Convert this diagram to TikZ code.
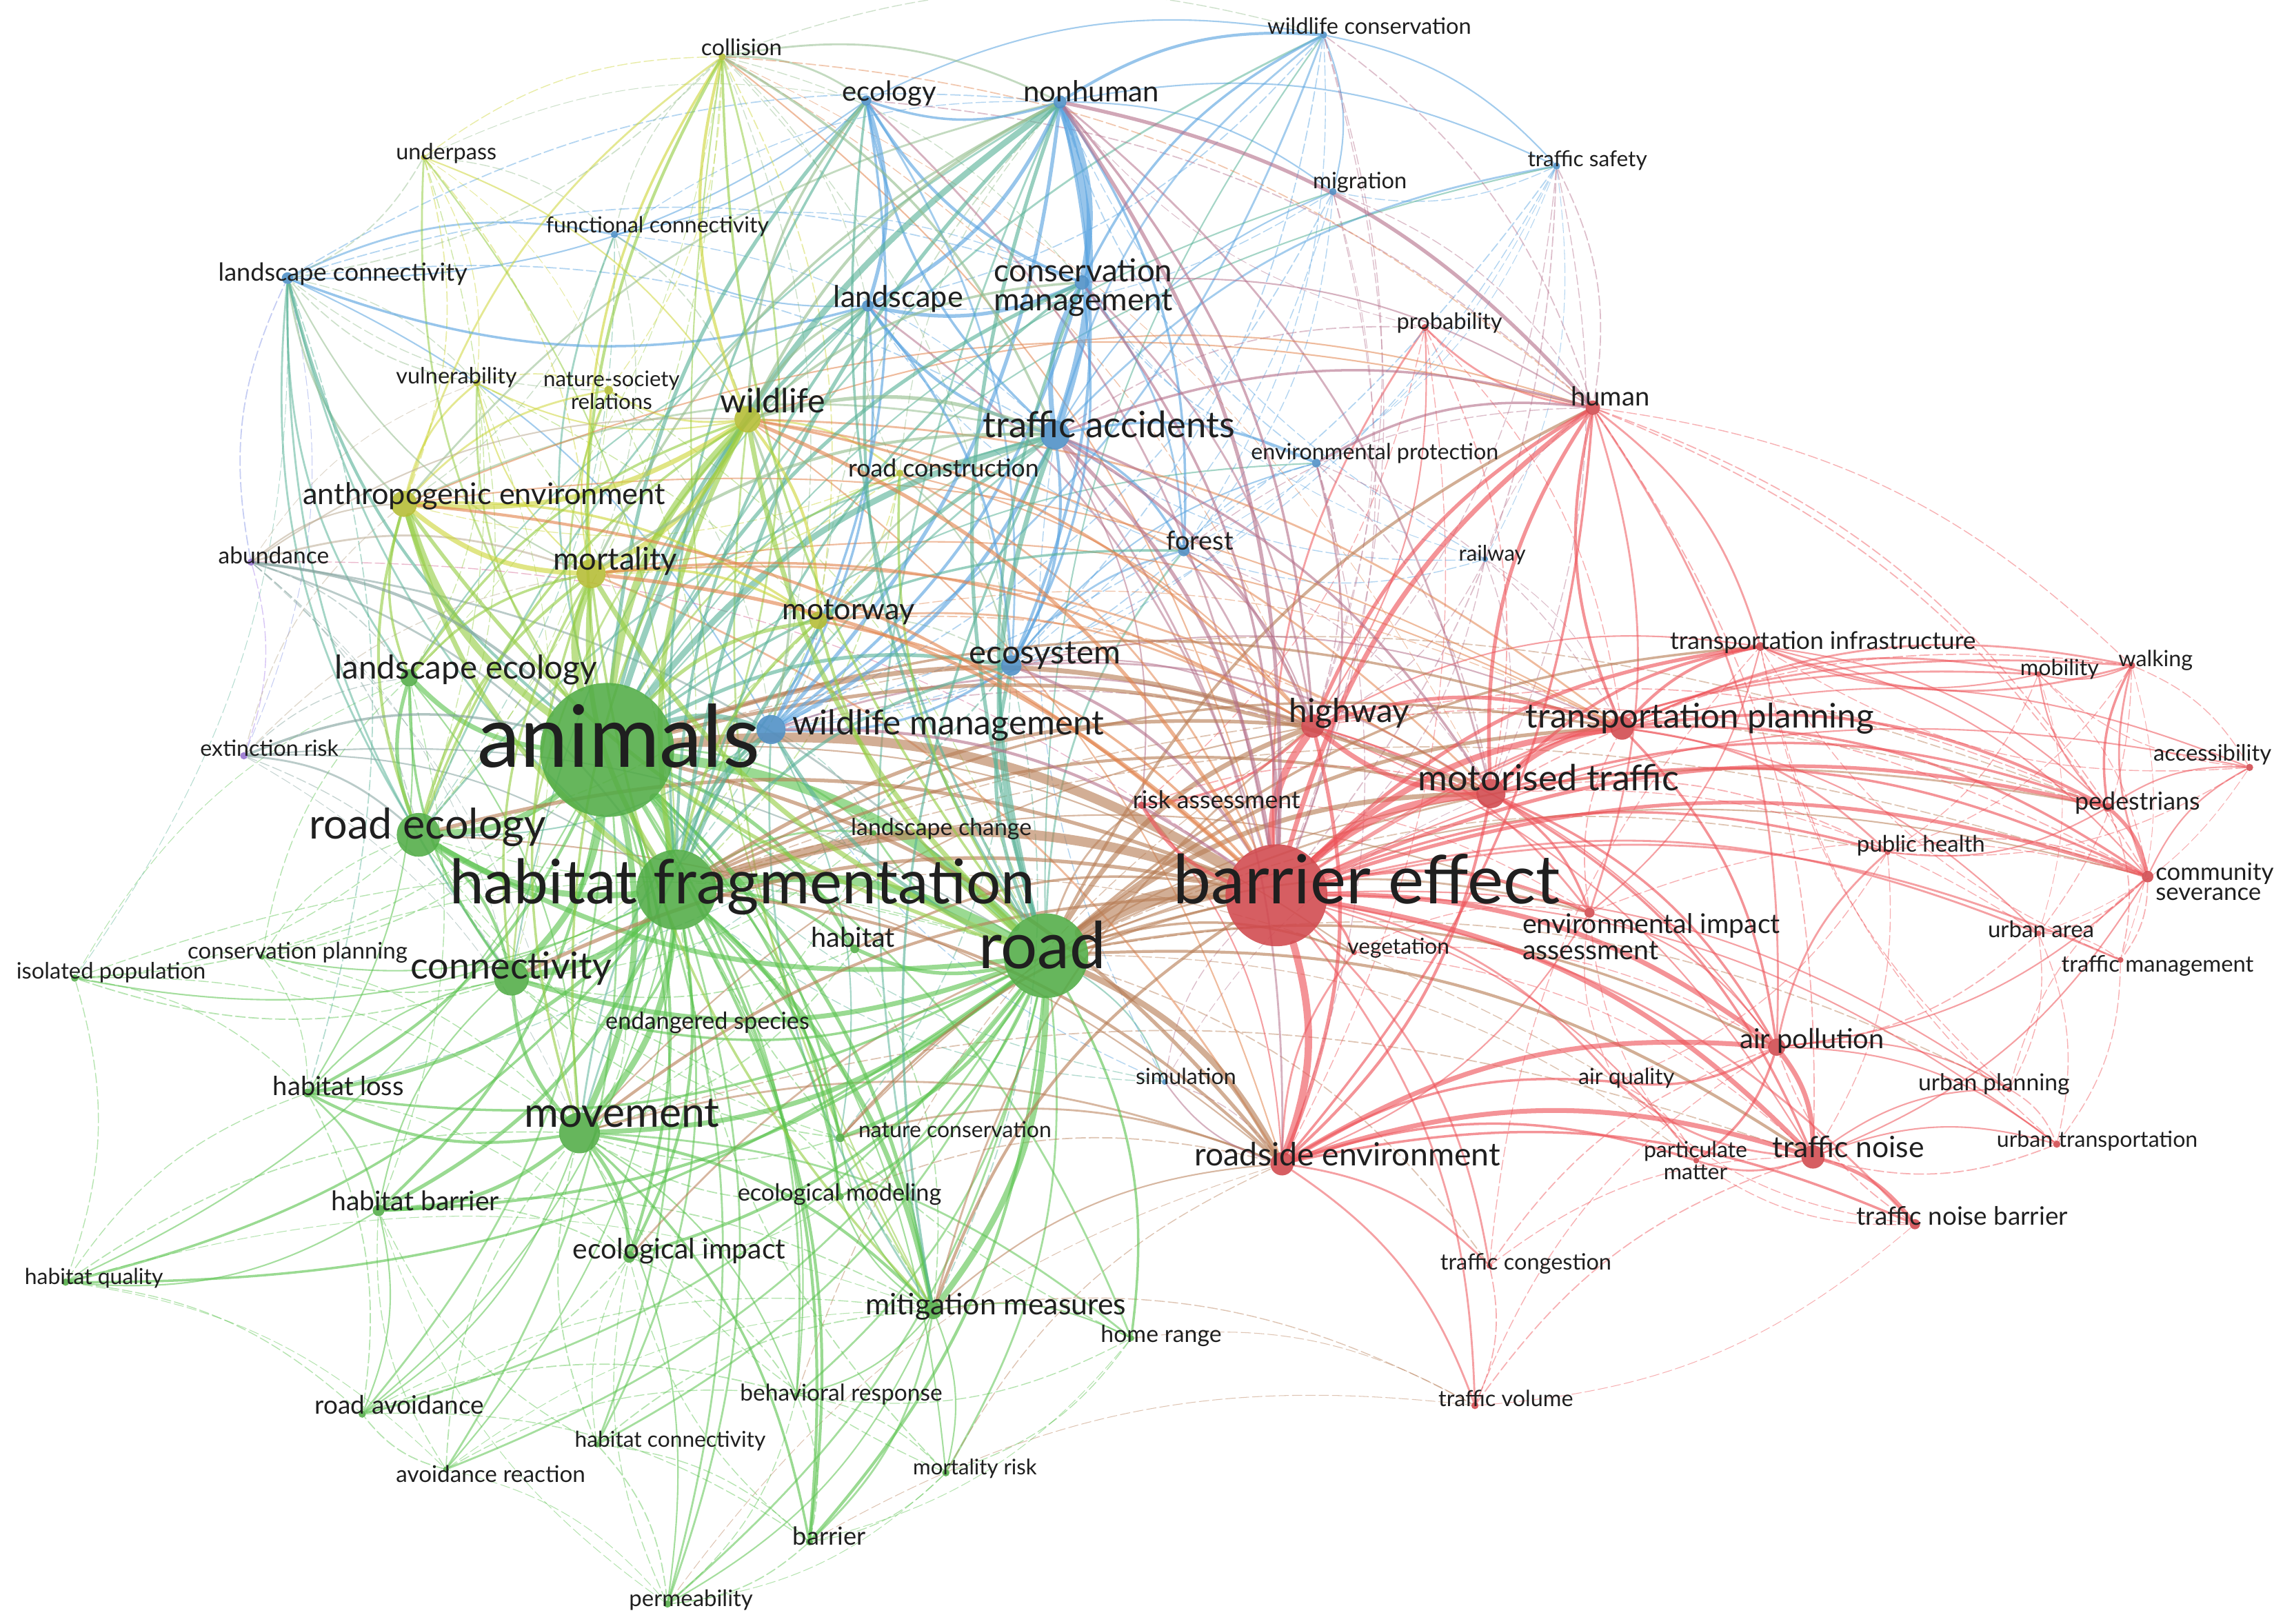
\documentclass[tikz,border=0pt]{standalone}
\usepackage{fontspec}
\setmainfont{Lato}
\usepackage{graphicx}
\pgfdeclarelayer{edgelayer}
\pgfdeclarelayer{textlayer}
\pgfsetlayers{edgelayer,main,textlayer}
\definecolor{cG}{RGB}{92,196,80}
\definecolor{cR}{RGB}{238,82,88}
\definecolor{cB}{RGB}{88,163,224}
\definecolor{cY}{RGB}{206,214,58}
\definecolor{cP}{RGB}{168,128,235}
\newdimen\U \U=0.021116cm
\tikzset{
 dot/.style={circle, inner sep=0pt, draw=none, fill opacity=0.88},
 lbl/.style={inner sep=0pt, text=black!88, font=\fontsize{10}{12}\selectfont},
 edgeln/.style={draw opacity=0.55, line cap=round},
}
\newcommand\D[5]{\expandafter\gdef\csname nc#1\endcsname{#5}%
 \node[dot, fill=#5!88!black, minimum size={2*#4*0.021116cm}] (#1) at (#2,#3) {};}
\newcommand\Lb[5]{\begin{pgfonlayer}{textlayer}\node[lbl, anchor=base] (#1-t) at (#2,#3) {\resizebox{#4\U}{!}{\raisebox{-0.5ex}{#5}}};\end{pgfonlayer}}
\newcommand\N[9]{\D{#1}{#2}{#3}{#4}{#5}\Lb{#1}{#6}{#7}{#8}{#9}}
\newcommand\LL[7]{\begin{pgfonlayer}{textlayer}\node[lbl, anchor=#2] (#1-t) at (#3,#4) {\resizebox{#5\U}{!}{\def\arraystretch{#6}#7}};\end{pgfonlayer}}
\newif\ifthickpass
\def\cRname{cR}
\newcommand\E[3]{%
 \edef\ca{\csname nc#1\endcsname}\edef\cb{\csname nc#2\endcsname}%
 \ifx\ca\cb \edef\ecol{\ca}%
 \else\ifx\ca\cRname \edef\ecol{cR!62!\cb}%
 \else\ifx\cb\cRname \edef\ecol{cR!62!\ca}%
 \else \edef\ecol{\ca!50!\cb}\fi\fi\fi
 \ifthickpass
   \ifdim#3pt<1pt\else \draw[edgeln, draw=\ecol, line width=#3pt, draw opacity=0.62] (#1) to[bend left=18] (#2);\fi
 \else
   \ifdim#3pt<1pt
     \ifdim#3pt<0.55pt \draw[edgeln, draw=\ecol, line width=#3pt, draw opacity=0.45, dash pattern=on 4pt off 1.5pt] (#1) to[bend left=18] (#2);%
     \else \draw[edgeln, draw=\ecol, line width=#3pt] (#1) to[bend left=18] (#2);\fi
   \fi
 \fi}
\def\edgelist{%
animals/habfrag/4, animals/road/4, habfrag/road/3.5, road/beff/6, animals/beff/4, habfrag/beff/4,
animals/reco/2.5, animals/conn/2.5, animals/movement/2.5, animals/leco/2, habfrag/reco/2.5, habfrag/conn/2.5, habfrag/movement/2.5, road/movement/2, road/reco/2, road/conn/2, road/mitig/2.5, habfrag/mitig/2, animals/mitig/1.5, movement/conn/1.5, movement/habbar/1.5, movement/habloss/1.2, movement/ecoimp/1.5, movement/mitig/1.2, reco/leco/1.5, reco/conn/1.2, conn/leco/1, animals/habitat/1.5, road/habitat/1.5, habfrag/habitat/1.2, animals/endang/1, habfrag/endang/1, road/endang/1, animals/natcons/1, road/natcons/1.5, habfrag/natcons/1.2, animals/ecomod/1, road/ecomod/1, habfrag/ecomod/1, animals/ecoimp/1.2, road/ecoimp/1.2, habfrag/ecoimp/1.2, animals/habloss/1.2, habfrag/habloss/1.5, road/habloss/1, animals/habbar/1.2, habfrag/habbar/1.5, road/habbar/1.2, animals/ravoid/0.8, road/ravoid/0.8, habfrag/ravoid/0.6, habbar/ravoid/0.6, movement/ravoid/0.6, animals/avoid/0.8, road/avoid/0.8, habfrag/avoid/0.6, animals/barr/1.2, road/barr/1.2, habfrag/barr/1.2, movement/barr/1, animals/perm/0.8, road/perm/0.8, habfrag/perm/0.8, movement/perm/0.6, animals/habconn/0.8, road/habconn/0.8, habfrag/habconn/0.8, animals/behav/0.8, road/behav/0.8, habfrag/behav/0.6, movement/behav/0.6, animals/mrisk/0.6, road/mrisk/0.8, mitig/mrisk/0.6, road/home/1, movement/home/0.8, animals/home/0.8, mitig/home/0.6, animals/habqual/0.6, habfrag/habqual/1, road/habqual/1, habbar/habqual/0.6, animals/isol/0.5, habfrag/isol/0.6, conn/isol/0.5, reco/isol/0.4, animals/cplan/0.5, habfrag/cplan/0.6, conn/cplan/0.5, animals/lchange/0.8, habfrag/lchange/0.8, road/lchange/0.8, mitig/ecomod/0.6, mitig/natcons/0.6, mitig/behav/0.6, mitig/barr/0.8, mitig/perm/0.6, ecoimp/ravoid/0.5, habloss/habbar/0.8, habloss/ravoid/0.5, ecoimp/behav/0.5, habconn/perm/0.5, barr/perm/0.5, avoid/ravoid/0.5, leco/habloss/0.6,
isol/habqual/0.4, isol/habloss/0.4, isol/movement/0.4, isol/road/0.4, isol/leco/0.3, cplan/reco/0.4, cplan/road/0.4, cplan/movement/0.4, cplan/habloss/0.4, cplan/leco/0.4, habqual/habloss/0.4, habqual/movement/0.5, habqual/ravoid/0.4, habqual/mitig/0.3, habqual/avoid/0.3, ravoid/behav/0.5, ravoid/mitig/0.4, ravoid/barr/0.4, avoid/behav/0.4, avoid/movement/0.5, avoid/habbar/0.4, avoid/perm/0.3, avoid/mitig/0.3, habconn/movement/0.5, habconn/mitig/0.5, habconn/ecoimp/0.4, habconn/barr/0.4, habconn/habbar/0.4, behav/barr/0.5, behav/perm/0.4, behav/mrisk/0.4, mrisk/barr/0.4, mrisk/movement/0.4, mrisk/habfrag/0.5, mrisk/perm/0.3, perm/ecoimp/0.4, perm/habbar/0.3, barr/ecoimp/0.4, ecomod/movement/0.5, ecomod/ecoimp/0.4, ecomod/natcons/0.4, natcons/movement/0.5, natcons/conn/0.5, natcons/reco/0.4, endang/movement/0.5, endang/conn/0.5, endang/mitig/0.5, endang/reco/0.4, habitat/movement/0.5, habitat/conn/0.5, habitat/mitig/0.5, lchange/movement/0.4, lchange/conn/0.4, lchange/reco/0.4, home/behav/0.4, home/mrisk/0.4, home/barr/0.3, home/habfrag/0.5, habloss/ecoimp/0.4, habloss/conn/0.6, habbar/conn/0.6, habbar/ecoimp/0.5, habbar/mitig/0.5, leco/movement/0.6, leco/habbar/0.4,
road/highway/2, road/motor/2, road/roadside/2.5, road/tplan/1.5, road/human/1.2, road/tnoise/1.2, road/airpol/1, road/tinfra/1, animals/highway/2, animals/motor/1.5, animals/roadside/1.5, habfrag/highway/1.5, habfrag/motor/1.2, habfrag/roadside/1.2, movement/beff/1.2, mitig/beff/1.2, reco/beff/1.5, conn/beff/1.5, natcons/beff/1, habitat/beff/1, ecoimp/beff/0.8, habfrag/tplan/1, animals/tplan/1, movement/highway/0.6, mitig/highway/0.8, mitig/roadside/0.6, road/risk/0.8, road/veg/1, animals/veg/0.6, road/eia/0.8, habfrag/eia/0.6, road/sim/0.6, road/tcong/0.5, mitig/tvol/0.4, home/tvol/0.3, barr/tvol/0.3, perm/roadside/0.3, road/uplan/0.5, road/ped/0.8, habfrag/ped/0.5, animals/ped/0.5, reco/roadside/0.6, natcons/roadside/0.8, natcons/motor/0.6, movement/roadside/0.8, ecomod/roadside/0.5, habfrag/airq/0.4, road/pm/0.4, road/phealth/0.5, road/csev/0.6, habfrag/csev/0.5, movement/tnoise/0.5, mrisk/roadside/0.4, behav/highway/0.4,
beff/motor/3, beff/highway/3, beff/tplan/2.5, beff/roadside/3, beff/human/2, beff/tnoise/2, beff/airpol/2, beff/ped/1.5, beff/csev/1.5, beff/tinfra/1.5, beff/eia/1.2, beff/risk/1.5, beff/veg/1, beff/phealth/1, beff/uarea/0.8, beff/tmgmt/0.8, beff/walk/0.8, beff/mob/0.8, beff/access/0.6, beff/prob/0.8, beff/tcong/0.8, beff/tvol/0.8, beff/airq/0.8, beff/pm/0.6, beff/uplan/0.6, beff/utrans/0.6, beff/tnb/0.8, motor/tplan/2, motor/highway/2, motor/human/1.5, motor/roadside/1.2, motor/tinfra/1.2, motor/ped/1, motor/csev/1, motor/airpol/1, motor/tnoise/1, motor/eia/1, highway/tplan/1.5, highway/human/1.5, highway/roadside/1.5, highway/risk/1, highway/eia/0.8, tplan/human/1.2, tplan/tinfra/1.2, tplan/ped/1.2, tplan/csev/1, tplan/mob/0.8, tplan/walk/0.8, tplan/phealth/0.8, tplan/airpol/1, tplan/access/0.6, tplan/uarea/0.6, human/prob/0.8, human/roadside/1, human/tinfra/0.8, human/airpol/0.8, human/eia/0.8, roadside/tnoise/2, roadside/airpol/2, roadside/airq/1, roadside/pm/1, roadside/tcong/0.8, roadside/tvol/0.8, roadside/tnb/1, roadside/veg/0.8, roadside/sim/0.6, airpol/tnoise/2, airpol/airq/1, airpol/pm/1, airpol/phealth/0.8, airpol/utrans/0.6, airpol/uplan/0.6, tnoise/tnb/1.5, tnoise/airq/0.8, tnoise/pm/0.8, tnoise/uplan/0.6, tnoise/utrans/0.6, ped/csev/1.5, ped/walk/1, ped/access/0.6, ped/mob/0.6, ped/phealth/0.6, ped/tmgmt/0.5, csev/walk/0.8, csev/access/0.6, csev/tmgmt/0.5, csev/uarea/0.5, csev/airpol/0.6, csev/tnoise/0.6, walk/mob/0.6, walk/access/0.4, walk/tinfra/0.8, mob/tinfra/0.6, tinfra/eia/0.6, tinfra/csev/0.6, tinfra/ped/0.6, uarea/tmgmt/0.4, uarea/airpol/0.5, uplan/utrans/0.5, utrans/tnoise/0.5, tcong/tvol/0.5, tcong/airpol/0.5, tvol/tnoise/0.5, eia/airpol/0.6, eia/roadside/0.6, risk/roadside/0.6, prob/highway/0.6, prob/motor/0.5, veg/eia/0.4,
access/mob/0.4, access/tinfra/0.4, access/phealth/0.4, access/uarea/0.3, mob/csev/0.4, mob/phealth/0.4, mob/uarea/0.3, walk/phealth/0.4, walk/uarea/0.4, walk/tmgmt/0.3, phealth/csev/0.5, phealth/airq/0.4, phealth/tnoise/0.4, uarea/utrans/0.4, uarea/uplan/0.4, tmgmt/utrans/0.4, tmgmt/tinfra/0.4, utrans/tinfra/0.4, uplan/tinfra/0.4, uplan/csev/0.4, tnb/airpol/0.5, tnb/pm/0.4, tnb/airq/0.4, tnb/tvol/0.3, tcong/tnoise/0.4, tcong/tinfra/0.4, tvol/airpol/0.4, airq/pm/0.5, airq/eia/0.4, pm/eia/0.4, human/walk/0.4, human/ped/0.5, human/csev/0.5, human/tnoise/0.5, prob/risk/0.4, prob/roadside/0.4, prob/tplan/0.4, risk/motor/0.5, risk/eia/0.4, veg/tnoise/0.4, veg/airpol/0.4, eia/tplan/0.5, eia/csev/0.4, highway/ped/0.5, highway/csev/0.5, highway/airpol/0.6, highway/tnoise/0.6, highway/tinfra/0.6, motor/phealth/0.5, motor/walk/0.5, motor/uarea/0.4,
nonh/tacc/3, nonh/cmgmt/2.5, nonh/ecol/1, nonh/lands/1.5, nonh/wmgmt/1.5, nonh/ecosys/1.2, nonh/wcons/1.2, nonh/forest/1, nonh/migr/0.6, nonh/tsafe/0.6, tacc/cmgmt/2, tacc/wmgmt/1.5, tacc/ecosys/1.2, tacc/lands/1.2, tacc/ecol/1, tacc/forest/1, tacc/eprot/1, tacc/tsafe/0.8, tacc/wcons/0.8, tacc/migr/0.6, cmgmt/lands/1.5, cmgmt/ecol/1.2, cmgmt/wmgmt/1.2, cmgmt/ecosys/1, cmgmt/wcons/1, cmgmt/forest/0.8, ecol/lands/1.5, ecol/wmgmt/1, ecol/ecosys/0.8, ecol/wcons/0.6, ecol/fconn/0.6, ecol/lconn/0.6, lands/wmgmt/1, lands/ecosys/1, lands/fconn/0.6, lands/lconn/1, lconn/fconn/0.8, lconn/wmgmt/0.6, wcons/migr/0.6, wcons/tsafe/0.6, wcons/wmgmt/0.8, tsafe/migr/0.4, tsafe/wmgmt/0.5, ecosys/forest/0.8, ecosys/wmgmt/1, ecosys/eprot/0.6, forest/eprot/0.5, migr/wmgmt/0.5, rail/forest/0.4, rail/tacc/0.4, rail/nonh/0.4, sim/wmgmt/0.4,
under/col/0.4, under/vuln/0.4, under/nsr/0.3, under/ecol/0.3, fconn/col/0.4, fconn/wild/0.5, fconn/mort/0.4, fconn/anth/0.4, fconn/nonh/0.4, fconn/tacc/0.4, fconn/cmgmt/0.4, fconn/reco/0.4, lconn/vuln/0.4, lconn/nonh/0.5, lconn/tacc/0.5, lconn/cmgmt/0.5, lconn/extinct/0.3, wcons/lands/0.5, wcons/ecosys/0.5, wcons/forest/0.4, wcons/beff/0.4, wcons/highway/0.4, tsafe/ecosys/0.4, tsafe/highway/0.4, tsafe/motor/0.4, tsafe/forest/0.3, tsafe/rail/0.3, tsafe/eprot/0.3, migr/lands/0.4, migr/ecosys/0.4, migr/forest/0.4, migr/beff/0.4, migr/highway/0.3, prob/nonh/0.3, eprot/nonh/0.5, eprot/cmgmt/0.5, eprot/wmgmt/0.4, eprot/highway/0.5, eprot/motor/0.5, eprot/roadside/0.4, eprot/tplan/0.4, rail/highway/0.4, rail/motor/0.4, rail/human/0.3, rail/tplan/0.3, rail/cmgmt/0.3, forest/motor/0.4, forest/wmgmt/0.5, forest/lands/0.4, forest/human/0.4, col/ecosys/0.4, col/lands/0.4, col/cmgmt/0.4, col/wmgmt/0.4, col/reco/0.4, col/leco/0.3, col/highway/0.4, col/motor/0.3, vuln/reco/0.4, vuln/leco/0.4, vuln/habfrag/0.4, vuln/road/0.4, vuln/conn/0.3, nsr/wmgmt/0.4, nsr/road/0.4, nsr/habfrag/0.4, nsr/reco/0.3, rcons/habfrag/0.5, rcons/mort/0.5, rcons/anth/0.4, rcons/motorway/0.5, rcons/nonh/0.4, rcons/lands/0.4, motorway/nonh/0.5, motorway/ecosys/0.5, motorway/tplan/0.4, motorway/motor/0.5, motorway/wmgmt/0.5, motorway/reco/0.5, motorway/conn/0.4, ecosys/highway/0.6, ecosys/mitig/0.5, ecosys/habloss/0.4, ecosys/conn/0.4, wmgmt/reco/0.6, wmgmt/conn/0.5, wmgmt/lchange/0.4, wmgmt/motor/0.5, sim/animals/0.4, sim/habfrag/0.4, sim/tacc/0.4, sim/motor/0.3,
animals/nonh/2.5, animals/tacc/2.5, animals/wmgmt/2, animals/ecol/1.5, animals/lands/1.5, animals/cmgmt/1.5, animals/ecosys/1.5, animals/forest/1, animals/lconn/1.2, animals/fconn/0.8, animals/wcons/0.8, animals/migr/0.6, animals/tsafe/0.6, animals/eprot/0.6, habfrag/nonh/1.5, habfrag/tacc/1.5, habfrag/wmgmt/1.5, habfrag/lands/1.2, habfrag/ecol/1, habfrag/cmgmt/1, habfrag/ecosys/1.2, habfrag/lconn/0.8, road/tacc/2, road/nonh/1.5, road/wmgmt/1.5, road/ecosys/1.5, road/cmgmt/1.2, road/lands/1.2, road/ecol/1, road/forest/0.8, road/wcons/0.6, reco/lconn/0.8, reco/nonh/0.8, reco/tacc/0.8, conn/lconn/0.8, conn/lands/0.6, movement/tacc/0.8, movement/wmgmt/0.8, mitig/tacc/1, mitig/wmgmt/0.8, mitig/nonh/0.8, leco/lconn/0.8, leco/lands/0.6, wmgmt/natcons/0.6, ecosys/natcons/0.5, lconn/habloss/0.5, lconn/isol/0.3,
nonh/human/1.5, nonh/beff/1.5, nonh/highway/1, nonh/motor/0.8, tacc/beff/1.5, tacc/highway/1.2, tacc/motor/1, tacc/human/1, tacc/roadside/0.8, tacc/risk/0.6, tacc/prob/0.5, cmgmt/beff/1, cmgmt/highway/0.8, cmgmt/human/0.6, wmgmt/beff/1.2, wmgmt/highway/0.8, ecosys/beff/1.2, ecosys/motor/0.8, ecosys/tplan/0.6, forest/beff/0.8, forest/highway/0.6, eprot/human/1, eprot/beff/0.8, wcons/human/0.5, tsafe/human/0.5, tsafe/beff/0.5, migr/human/0.4, lands/beff/0.8, ecol/beff/0.8, ecol/human/0.5, rail/beff/0.4, sim/roadside/0.4, sim/beff/0.4,
wild/mort/2, wild/anth/2, mort/anth/2, wild/col/1.2, mort/col/1, anth/col/0.8, wild/motorway/1.2, mort/motorway/1, anth/motorway/1, wild/rcons/0.8, wild/nsr/0.8, anth/nsr/0.8, anth/vuln/0.8, wild/vuln/0.6, mort/vuln/0.6, mort/nsr/0.6, under/wild/0.6, under/mort/0.5, under/anth/0.5, col/nsr/0.4, col/motorway/0.5, vuln/nsr/0.5,
animals/wild/3, animals/mort/3, animals/anth/3, animals/motorway/1.5, animals/col/1.2, animals/under/0.8, animals/vuln/0.8, animals/nsr/0.8, animals/rcons/0.8, habfrag/wild/2, habfrag/mort/2, habfrag/anth/2, habfrag/motorway/1.2, road/wild/2, road/mort/2, road/anth/1.5, road/motorway/1.2, road/col/1, road/rcons/1, reco/mort/1.2, reco/anth/1.2, reco/wild/1, conn/mort/1, conn/wild/0.8, leco/anth/1, leco/mort/1, leco/wild/1, movement/wild/1, movement/mort/1, mitig/mort/1, mitig/wild/0.8, mitig/col/0.6, under/habfrag/0.6, under/reco/0.4, col/habfrag/0.8,
wild/tacc/1.5, wild/nonh/1.2, wild/ecol/1, wild/lands/1, wild/cmgmt/1, wild/wmgmt/1, mort/tacc/1.2, mort/nonh/1, mort/lconn/0.6, anth/lconn/0.8, anth/nonh/0.8, anth/tacc/0.8, col/ecol/0.8, col/nonh/0.8, col/tacc/1, col/lconn/0.5, col/wcons/0.4, under/lconn/0.5, under/fconn/0.4, vuln/lconn/0.5, nsr/lconn/0.4, motorway/tacc/0.8, rcons/tacc/0.8, rcons/ecosys/0.6,
wild/beff/1.5, mort/beff/1.5, anth/beff/1.2, wild/highway/1, mort/highway/1, wild/motor/0.8, mort/motor/0.8, anth/tplan/0.6, wild/human/0.6, col/human/0.5, col/beff/0.6, motorway/beff/1, motorway/highway/0.8, rcons/beff/0.8, rcons/highway/0.6, wild/roadside/0.6, mort/roadside/0.8, anth/human/0.6, wild/tplan/0.8, mort/tplan/0.6,
abund/animals/1.2, abund/anth/0.6, abund/mort/0.8, abund/wild/0.6, abund/habfrag/0.8, abund/road/0.8, abund/reco/0.5, abund/leco/0.5, abund/lconn/0.5, abund/beff/0.4, abund/extinct/0.4, extinct/animals/1, extinct/reco/0.8, extinct/habfrag/0.6, extinct/road/0.6, extinct/mort/0.4, extinct/conn/0.4, extinct/leco/0.4, abund/vuln/0.3, extinct/anth/0.4, extinct/movement/0.3, abund/conn/0.3, abund/movement/0.3}
\begin{document}
\begin{tikzpicture}[x=0.021116cm, y=-0.021116cm]
\begin{pgfonlayer}{edgelayer}
\fill[white] (0,0) rectangle (1568,1115);
\end{pgfonlayer}
\useasboundingbox (0,0) rectangle (1568,1115);
% ---- nodes ----
\N{col}{496}{39}{2.5}{cY}{509.3}{34}{55.5}{collision}
\N{ecol}{595}{69}{3.5}{cB}{610.7}{64.5}{64.5}{ecology}
\N{nonh}{728}{70}{4.5}{cB}{749.5}{65}{93}{nonhuman}
\N{wcons}{909}{24}{2.5}{cB}{940.5}{19.4}{140}{wildlife conservation}
\N{under}{291}{108}{2}{cY}{306.5}{105.5}{69}{underpass}
\N{fconn}{422}{161}{2.5}{cB}{451.5}{156}{153}{functional connectivity}
\N{migr}{915.5}{131.6}{2.5}{cB}{934}{125.7}{64.5}{migration}
\N{tsafe}{1069}{114}{2.5}{cB}{1090.2}{110.7}{82}{traffic safety}
\N{lconn}{197.5}{191}{4}{cB}{235.5}{188.5}{171}{landscape connectivity}
\N{lands}{596}{210}{4}{cB}{617}{206}{89}{landscape}
\D{cmgmt}{743}{194}{5}{cB}
\LL{cmgmt}{center}{744}{198}{123}{0.65}{\begin{tabular}{@{}c@{}}conservation\\management\end{tabular}}
\N{prob}{978.7}{225}{2.5}{cR}{995.5}{222}{72.5}{probability}
\N{vuln}{327.5}{263}{2.5}{cY}{313.5}{259.6}{83}{vulnerability}
\D{nsr}{418}{268}{3}{cY}
\LL{nsr}{center}{420}{270.3}{93.5}{0.88}{\begin{tabular}{@{}c@{}}nature-society\\relations\end{tabular}}
\N{wild}{513.4}{288}{9}{cY}{530.8}{277.4}{72.5}{wildlife}
\N{human}{1094}{280}{5}{cR}{1106}{274}{54}{human}
\N{tacc}{724.6}{298.7}{10}{cB}{761.5}{294}{173}{traffic accidents}
\N{rcons}{618}{325}{2.5}{cY}{648}{323}{131}{road construction}
\N{eprot}{904}{318}{3}{cB}{944.2}{311.8}{170}{environmental protection}
\N{anth}{277.5}{346}{9}{cY}{332.5}{341.4}{249}{anthropogenic environment}
\N{abund}{172.5}{386}{2.5}{cP}{188}{383.2}{76}{abundance}
\N{mort}{406}{394}{10}{cY}{422.5}{386}{85}{mortality}
\N{forest}{813}{378}{4}{cB}{824}{373}{46}{forest}
\N{rail}{1020}{384}{2}{cB}{1024.9}{381.3}{46}{railway}
\N{motorway}{562}{426}{6}{cY}{582.8}{420.4}{91}{motorway}
\N{tinfra}{1209}{444}{3}{cR}{1252}{441.7}{210}{transportation infrastructure}
\N{mob}{1400}{463}{2}{cR}{1414.5}{460}{54}{mobility}
\N{walk}{1464}{457}{2.5}{cR}{1480.5}{453.6}{51}{walking}
\N{leco}{281}{465.5}{6}{cG}{320}{460.7}{180}{landscape ecology}
\N{ecosys}{694.6}{457}{7}{cB}{717.7}{450}{104}{ecosystem}
\N{highway}{901.7}{498.6}{8}{cR}{926.7}{490.4}{82.5}{highway}
\N{tplan}{1114}{500}{8}{cR}{1167.5}{494}{239}{transportation planning}
\N{access}{1545}{527}{2.5}{cR}{1519.5}{518.8}{81}{accessibility}
\N{extinct}{167.5}{519}{2.5}{cP}{185}{515.3}{95}{extinction risk}
\N{wmgmt}{529.6}{501}{10}{cB}{651.5}{498.6}{214}{wildlife management}
\N{animals}{417}{515}{46}{cG}{425}{512}{194}{animals}
\N{motor}{1024}{545}{10}{cR}{1063.6}{536.6}{179}{motorised traffic}
\N{risk}{784}{553}{2.5}{cR}{835.5}{550.8}{115}{risk assessment}
\N{ped}{1447.7}{554.4}{3}{cR}{1468}{552}{86}{pedestrians}
\N{reco}{287.5}{573.3}{15}{cG}{293.8}{568.6}{162.5}{road ecology}
\N{lchange}{600}{572}{2}{cG}{646.5}{569.8}{124}{landscape change}
\N{phealth}{1296.4}{585.2}{2}{cR}{1319.3}{581}{88}{public health}
\D{csev}{1475}{602}{4}{cR}
\LL{csev}{west}{1480.2}{607.5}{81}{0.71}{\begin{tabular}{@{}l@{}}community\\severance\end{tabular}}
\N{habfrag}{464.6}{611}{27.5}{cG}{509.8}{610}{402}{habitat fragmentation}
\N{beff}{876.7}{614.8}{35}{cR}{938.6}{609}{266}{barrier effect}
\D{eia}{1091.7}{626.7}{3.5}{cR}
\LL{eia}{west}{1045.4}{645.8}{177}{0.78}{\begin{tabular}{@{}l@{}}environmental impact\\assessment\end{tabular}}
\N{uarea}{1400}{641}{2}{cR}{1401.8}{639.7}{73}{urban area}
\N{tmgmt}{1456.4}{659.2}{2}{cR}{1481.8}{663.4}{132}{traffic management}
\N{cplan}{180}{657}{2}{cG}{204.4}{654.7}{151}{conservation planning}
\N{habitat}{587}{651.6}{3}{cG}{585.9}{645.7}{57.5}{habitat}
\N{road}{718.4}{656.3}{29}{cG}{715.9}{654}{87.5}{road}
\N{veg}{930}{654}{2}{cR}{960.5}{651.6}{70}{vegetation}
\N{isol}{51.3}{671.7}{2.5}{cG}{76.3}{668.2}{130}{isolated population}
\N{conn}{351.3}{671.7}{12}{cG}{351}{665.8}{138}{connectivity}
\N{endang}{430}{705}{2.5}{cG}{485.9}{702.6}{140}{endangered species}
\N{airpol}{1220.2}{719.1}{6}{cR}{1244.6}{715.1}{99}{air pollution}
\N{habloss}{211.3}{750.6}{3}{cG}{232.5}{747.8}{90}{habitat loss}
\N{sim}{800}{743}{2}{cB}{814.5}{741}{69}{simulation}
\N{airq}{1110}{743}{2}{cR}{1117}{741}{66}{air quality}
\N{uplan}{1380}{748}{2}{cR}{1369.5}{745}{104}{urban planning}
\N{movement}{398}{778}{14}{cG}{427}{767}{134}{movement}
\N{natcons}{577}{781.4}{3}{cG}{655.9}{777.4}{132.5}{nature conservation}
\N{utrans}{1412.6}{785.7}{2.5}{cR}{1440.4}{783.8}{138}{urban transportation}
\N{roadside}{880.5}{799.2}{8}{cR}{925.5}{795.2}{210}{roadside environment}
\D{pm}{1165}{797}{2}{cR}
\LL{pm}{center}{1164.5}{799}{71}{0.84}{\begin{tabular}{@{}c@{}}particulate\\matter\end{tabular}}
\N{tnoise}{1245.2}{794.5}{8}{cR}{1269.5}{789.7}{104}{traffic noise}
\N{habbar}{260}{831.2}{4}{cG}{285.2}{826.5}{115.5}{habitat barrier}
\N{ecomod}{577.1}{821.7}{2.5}{cG}{576.6}{820.6}{140}{ecological modeling}
\N{tnb}{1315.2}{840.7}{3.5}{cR}{1347.7}{837.1}{145}{traffic noise barrier}
\N{ecoimp}{432.1}{863.2}{4}{cG}{466.5}{859.7}{146}{ecological impact}
\N{tcong}{1023}{869.2}{2}{cR}{1048}{868}{117.5}{traffic congestion}
\N{habqual}{45}{880.5}{2.5}{cG}{64.5}{878.2}{95}{habitat quality}
\N{mitig}{640.9}{900}{6}{cG}{684}{897.6}{179}{mitigation measures}
\N{home}{777}{919}{2}{cG}{797.5}{917.8}{83}{home range}
\N{behav}{547.1}{958}{2}{cG}{577.8}{958}{139}{behavioral response}
\N{ravoid}{248.8}{971.1}{2.5}{cG}{274.4}{966.8}{116}{road avoidance}
\N{tvol}{1013}{965.2}{2.5}{cR}{1034.2}{962.1}{92.5}{traffic volume}
\N{habconn}{410}{992}{2}{cG}{460.3}{990}{131}{habitat connectivity}
\N{mrisk}{649.6}{1011.4}{2.5}{cG}{669.6}{1009}{85}{mortality risk}
\N{avoid}{306.3}{1009}{2}{cG}{337}{1013.8}{130}{avoidance reaction}
\N{barr}{555.9}{1058.8}{2.5}{cG}{569.6}{1056.5}{50}{barrier}
\N{perm}{458.4}{1101.5}{2.5}{cG}{474.6}{1099.2}{85}{permeability}
% ---- edges ----
\begin{pgfonlayer}{edgelayer}
\thickpassfalse
\foreach \a/\b/\w in \edgelist {\E{\a}{\b}{\w}}
\thickpasstrue
\foreach \a/\b/\w in \edgelist {\E{\a}{\b}{\w}}
\end{pgfonlayer}
\end{tikzpicture}
\end{document}
